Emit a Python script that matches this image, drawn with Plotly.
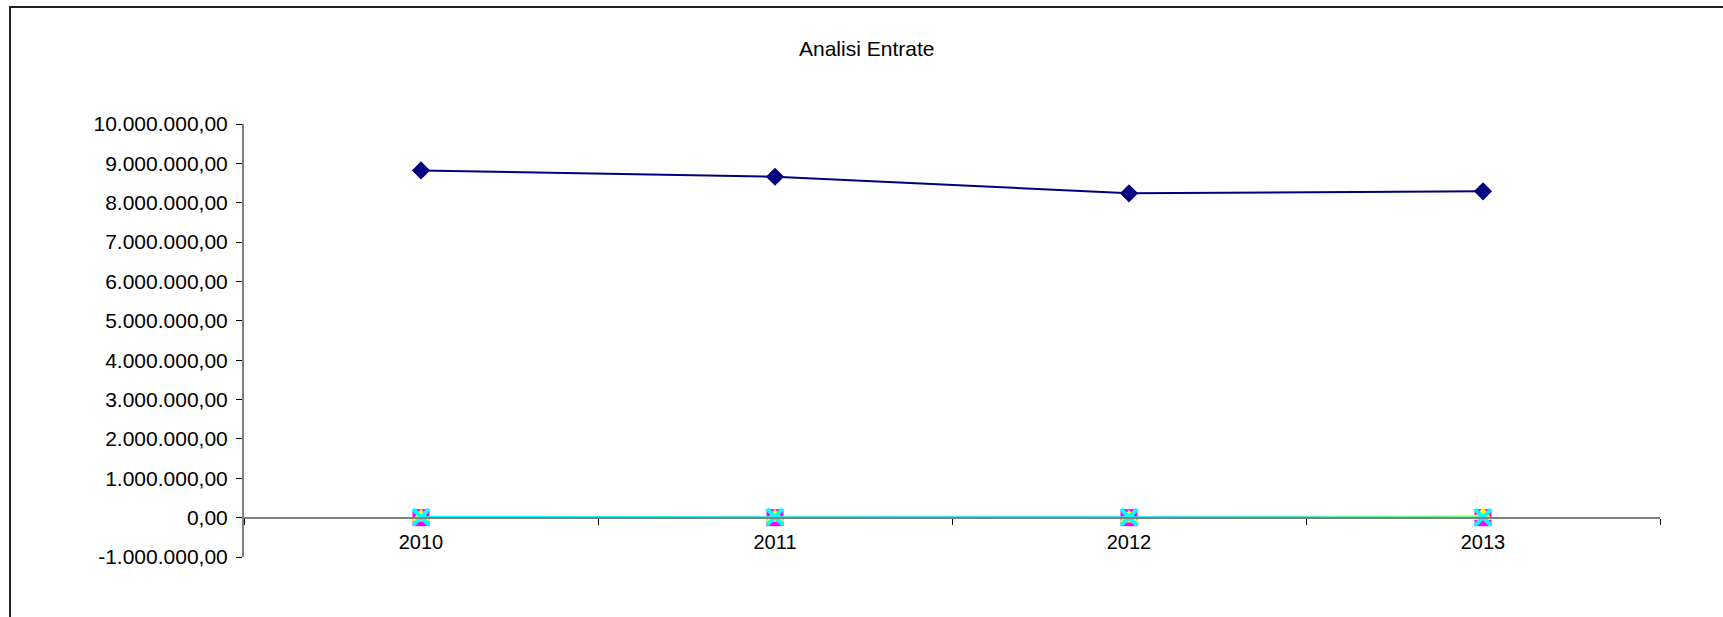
import plotly.graph_objects as go

# Years on the category axis
anni = ["2010", "2011", "2012", "2013"]

# Revenue series (euro)
entrate_totali = [8820000, 8660000, 8240000, 8290000]
serie_magenta = [0, 0, 0, 0]
serie_gialla = [10000, 5000, -15000, 50000]
serie_ciano = [15000, 20000, 10000, 5000]

# Value axis ticks
y_tick_vals = [-1000000, 0, 1000000, 2000000, 3000000, 4000000, 5000000,
               6000000, 7000000, 8000000, 9000000, 10000000]
y_tick_text = ["-1.000.000,00", "0,00", "1.000.000,00", "2.000.000,00",
               "3.000.000,00", "4.000.000,00", "5.000.000,00", "6.000.000,00",
               "7.000.000,00", "8.000.000,00", "9.000.000,00", "10.000.000,00"]

W, H = 1723, 617
L, R, T, B = 244, 63, 124, 60
plot_w = W - L - R
plot_h = H - T - B
y_min, y_max = -1000000, 10000000

fig = go.Figure()

fig.add_trace(go.Scatter(
    x=anni, y=entrate_totali, mode="lines+markers",
    line=dict(color="#000080", width=2),
    marker=dict(symbol="diamond", size=14, color="#000080"),
))
fig.add_trace(go.Scatter(
    x=anni, y=serie_magenta, mode="lines+markers",
    line=dict(color="#FF00FF", width=2),
    marker=dict(symbol="square", size=17, color="#FF00FF"),
))
fig.add_trace(go.Scatter(
    x=anni, y=serie_gialla, mode="lines+markers",
    line=dict(color="#FFFF00", width=2),
    marker=dict(symbol="triangle-up", size=17, color="#FFFF00"),
))
fig.add_trace(go.Scatter(
    x=anni, y=serie_ciano, mode="lines+markers",
    line=dict(color="#00FFFF", width=2),
    marker=dict(symbol="x-thin", size=16, color="#00FFFF",
                line=dict(color="#00FFFF", width=4)),
))

zero_pos = (0 - y_min) / (y_max - y_min)

# Outer chart border (extends past the visible page on right and bottom)
bx0 = (10 - L) / plot_w
by1 = 1 + (T - 7) / plot_h

fig.update_layout(
    width=W, height=H,
    margin=dict(l=L, r=R, t=T, b=B),
    paper_bgcolor="white", plot_bgcolor="white",
    showlegend=False,
    font=dict(family="Liberation Sans, Arial, sans-serif", size=21, color="black"),
    xaxis=dict(
        type="category", anchor="free", position=zero_pos,
        range=[-0.5, 3.5],
        showline=True, linecolor="#808080", linewidth=2,
        ticks="outside", tickson="boundaries", ticklen=6, tickcolor="#000000",
        ticklabelstandoff=6,
        showgrid=False, zeroline=False,
        tickfont=dict(size=20),
    ),
    yaxis=dict(
        range=[y_min, y_max],
        tickvals=y_tick_vals, ticktext=y_tick_text,
        showline=True, linecolor="#808080", linewidth=2,
        ticks="outside", ticklen=6, tickcolor="#000000",
        ticklabelstandoff=4,
        showgrid=False, zeroline=False,
        tickfont=dict(size=21),
    ),
    shapes=[dict(
        type="rect", xref="paper", yref="paper",
        x0=bx0, x1=1.2, y0=-0.3, y1=by1,
        line=dict(color="#222222", width=2), fillcolor="rgba(0,0,0,0)",
        layer="below",
    )],
    annotations=[dict(
        text="Analisi Entrate", xref="paper", yref="paper",
        x=(866 - L) / plot_w, y=1 + (T - 48) / plot_h,
        xanchor="center", yanchor="middle", showarrow=False,
        font=dict(size=21, color="black"),
    )],
)

fig.write_html("out.html")
